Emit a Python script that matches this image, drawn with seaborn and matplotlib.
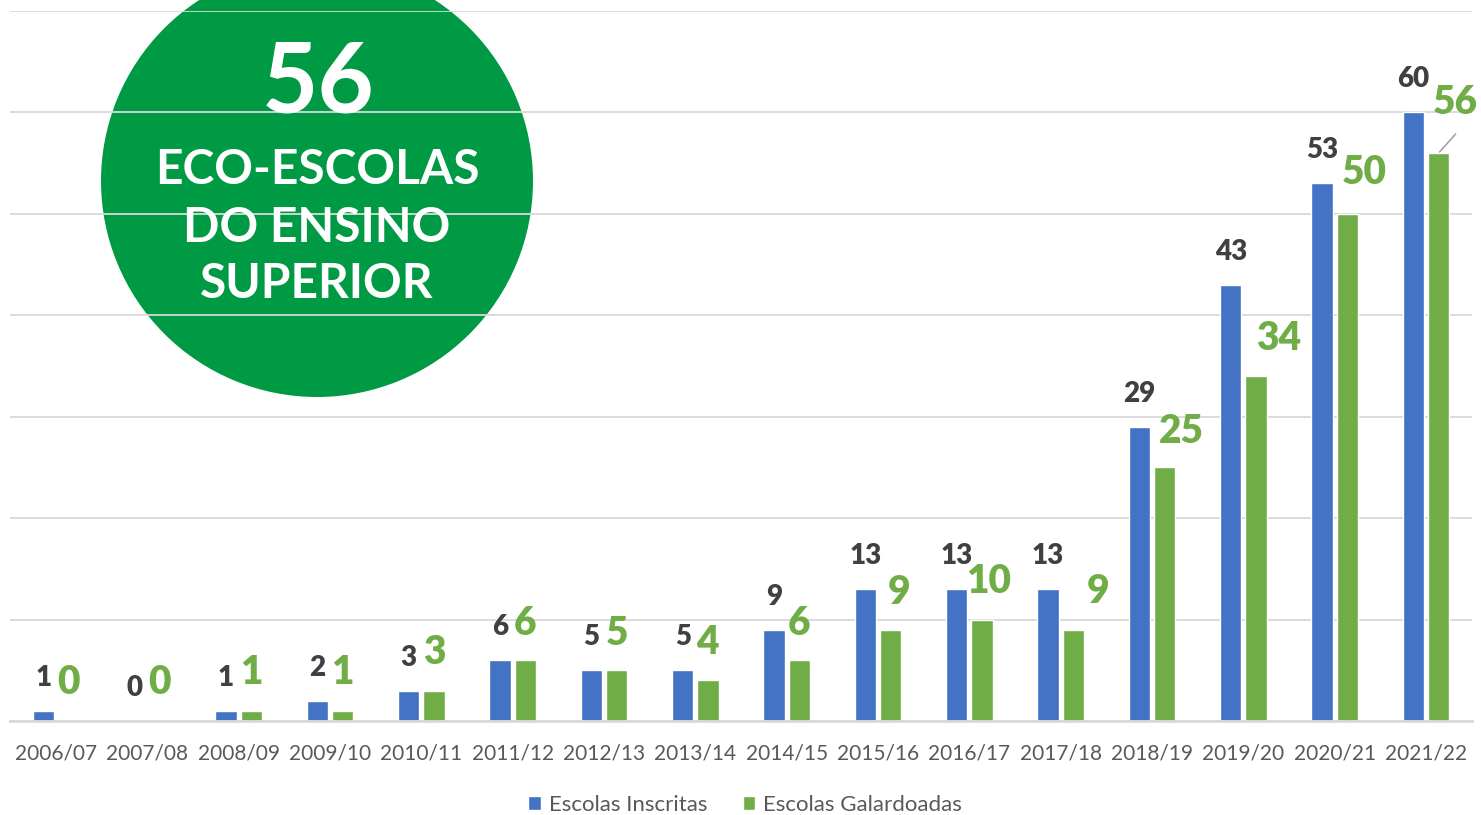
import pandas as pd
import matplotlib
matplotlib.use("Agg")
import matplotlib.pyplot as plt
from matplotlib.patches import Ellipse, Patch
import seaborn as sns

# Eco-Escolas do Ensino Superior por ano lectivo
seasons = ['2006/07', '2007/08', '2008/09', '2009/10', '2010/11', '2011/12', '2012/13', '2013/14',
           '2014/15', '2015/16', '2016/17', '2017/18', '2018/19', '2019/20', '2020/21', '2021/22']
inscritas = [1, 0, 1, 2, 3, 6, 5, 5, 9, 13, 13, 13, 29, 43, 53, 60]
galardoadas = [0, 0, 1, 1, 3, 6, 5, 4, 6, 9, 10, 9, 25, 34, 50, 56]
series_names = ['Escolas Inscritas', 'Escolas Galardoadas']

df = pd.DataFrame({
    'Ano': seasons * 2,
    'Serie': [series_names[0]] * len(seasons) + [series_names[1]] * len(seasons),
    'Valor': inscritas + galardoadas,
})

BLUE = '#4472C4'
GREEN = '#70AD47'
DARK = '#404040'
GREY = '#595959'
GRID = '#D9D9D9'

sns.set_style('white')
plt.rcParams['font.family'] = ['Lato', 'DejaVu Sans']

fig = plt.figure(figsize=(14.81, 8.15), dpi=100)
ax = fig.add_axes([10.3 / 1481, 1 - 721 / 815, 1461.4 / 1481, 710 / 815])

sns.barplot(data=df, x='Ano', y='Valor', hue='Serie', hue_order=series_names,
            palette=[BLUE, GREEN], width=0.55, gap=0.15, saturation=1,
            legend=False, ax=ax, zorder=2)

ax.set_ylim(0, 70)
ax.set_xlim(-0.5, len(seasons) - 0.5)
ax.set_yticks(range(0, 71, 10))
ax.set_yticklabels([])
ax.yaxis.grid(True, color=GRID, lw=1.3, zorder=1)
ax.set_axisbelow(True)
ax.set_xlabel('')
ax.set_ylabel('')
for s in ['left', 'right', 'top']:
    ax.spines[s].set_visible(False)
ax.spines['bottom'].set_color(GRID)
ax.spines['bottom'].set_linewidth(2)
ax.tick_params(axis='x', length=0, pad=16, labelsize=15, labelcolor=GREY)
ax.tick_params(axis='y', length=0)

# data labels (offsets in pixels)
px = 0.72
green_dx = [0, 0, 0, 0, 0, 0, 0, 0, 0, 8, 7, 25, 17, 23, 17, 17]
green_dy = [38, 38, 38, 38, 38, 37, 37, 38, 37, 37, 38, 38, 36, 38, 41, 51]

for bar, v in zip(ax.containers[0], inscritas):
    cx = bar.get_x() + bar.get_width() / 2
    ax.annotate(str(v), xy=(cx, v), xytext=(0, 33 * px), textcoords='offset points',
                ha='center', va='center', fontsize=20, fontweight='heavy', color=DARK)

for bar, v, dx, dy in zip(ax.containers[1], galardoadas, green_dx, green_dy):
    cx = bar.get_x() + bar.get_width() / 2
    ax.annotate(str(v), xy=(cx, v), xytext=(dx * px, dy * px), textcoords='offset points',
                ha='center', va='center', fontsize=28, fontweight='heavy', color=GREEN)

# leader line for the last green label
last = ax.containers[1][-1]
ax.annotate('', xy=(last.get_x() + last.get_width() / 2, galardoadas[-1]),
            xytext=(17 * px, 19 * px), textcoords='offset points',
            arrowprops=dict(arrowstyle='-', color='#A6A6A6', lw=1.2, shrinkA=0, shrinkB=1))

# green badge behind the gridlines
badge = Ellipse(((317 - 10.3) / 1461.4, (721 - 181) / 710), 432 / 1461.4, 432 / 710,
                transform=ax.transAxes, facecolor='#009A44', edgecolor='none',
                zorder=0.3, clip_on=False)
ax.add_patch(badge)
fig.text(318 / 1481, 1 - 84 / 815, '56', ha='center', va='center', color='white',
         fontsize=70, fontweight='bold', zorder=5)
for label, y in [('ECO-ESCOLAS', 170), ('DO ENSINO', 227.5), ('SUPERIOR', 284)]:
    fig.text(317 / 1481, 1 - y / 815, label, ha='center', va='center', color='white',
             fontsize=34.5, fontweight='bold', zorder=5)

handles = [Patch(facecolor=BLUE), Patch(facecolor=GREEN)]
fig.legend(handles, series_names, loc='center', bbox_to_anchor=(745 / 1481, 1 - 805 / 815),
           ncol=2, frameon=False, fontsize=16, labelcolor=GREY, handlelength=0.55,
           handleheight=0.55, handletextpad=0.36, columnspacing=1.6)

fig.savefig('out.png', dpi=100)
